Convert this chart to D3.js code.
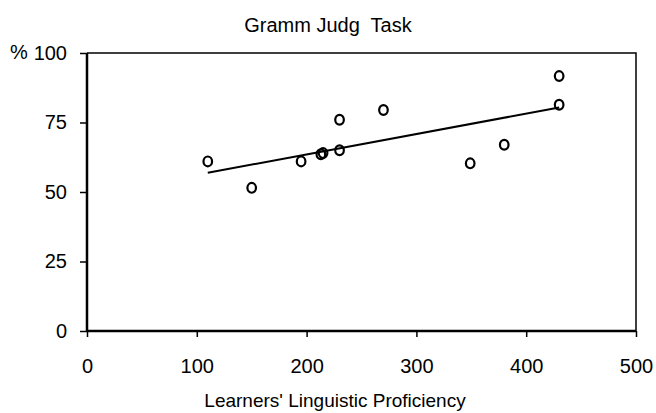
<!DOCTYPE html>
<html>
<head>
<meta charset="utf-8">
<script src="https://cdn.jsdelivr.net/npm/d3@7"></script>
<style>
  html, body { margin: 0; padding: 0; background: #fff; }
  svg { display: block; font-family: "Liberation Sans", Arial, sans-serif; }
  text { white-space: pre; }
</style>
</head>
<body>
<svg id="chart" width="656" height="413"></svg>
<script>
const title = "Gramm Judg  Task";
const xTitle = "Learners' Linguistic Proficiency";
const xTicks = [0, 100, 200, 300, 400, 500];
const yTicks = [0, 25, 50, 75, 100];
const proficiency = [110, 150, 195, 213, 215, 230, 230, 270, 349, 380, 430, 430];
const percentCorrect = [61, 51.5, 61, 63.6, 64, 65, 76, 79.5, 60.3, 67, 91.7, 81.4];
const trendX = [110, 430];
const trendY = [56.9, 80.4];

const svg = d3.select("#chart");
const m = { left: 87, right: 636, top: 53, bottom: 331 };
const x = d3.scaleLinear().domain([0, 500]).range([m.left, m.right]);
const y = d3.scaleLinear().domain([0, 100]).range([m.bottom, m.top]);
const FS = "20px";

// frame (top and right)
svg.append("path")
  .attr("d", `M${m.left},${m.top}H${m.right}V${m.bottom}`)
  .attr("fill", "none").attr("stroke", "#000").attr("stroke-width", 1.5);

// axes
const xAxis = svg.append("g").attr("transform", `translate(0,${m.bottom})`)
  .call(d3.axisBottom(x).tickValues(xTicks).tickSize(6).tickPadding(22).tickFormat(d3.format("d")));
const yAxis = svg.append("g").attr("transform", `translate(${m.left},0)`)
  .call(d3.axisLeft(y).tickValues(yTicks).tickSize(7).tickPadding(13).tickFormat(d3.format("d")));
[xAxis, yAxis].forEach(g => {
  g.select(".domain").attr("stroke", "#000").attr("stroke-width", 2.5)
    .attr("d", g === xAxis ? `M${m.left},0H${m.right}` : `M0,${m.bottom}V${m.top}`);
  g.selectAll(".tick line").attr("stroke", "#000").attr("stroke-width", 1.5);
  g.selectAll(".tick text").attr("fill", "#000").style("font-size", FS)
    .style("font-family", "'Liberation Sans', Arial, sans-serif");
});

// % sign
svg.append("text").attr("x", 10).attr("y", y(100)).attr("dy", "0.32em")
  .style("font-size", FS).text("%");

// trend line
svg.append("line")
  .attr("x1", x(trendX[0])).attr("y1", y(trendY[0]))
  .attr("x2", x(trendX[1])).attr("y2", y(trendY[1]))
  .attr("stroke", "#000").attr("stroke-width", 2);

// points
svg.append("g").selectAll("ellipse")
  .data(proficiency.map((d, i) => [d, percentCorrect[i]]))
  .join("ellipse")
  .attr("cx", d => x(d[0])).attr("cy", d => y(d[1]))
  .attr("rx", 4.3).attr("ry", 4.9)
  .attr("fill", "none").attr("stroke", "#000").attr("stroke-width", 2.2);

// titles
svg.append("text").attr("x", 328).attr("y", 32).attr("text-anchor", "middle")
  .style("font-size", FS).text(title);
svg.append("text").attr("x", 335).attr("y", 407).attr("text-anchor", "middle")
  .style("font-size", "19px").text(xTitle);
</script>
</body>
</html>
